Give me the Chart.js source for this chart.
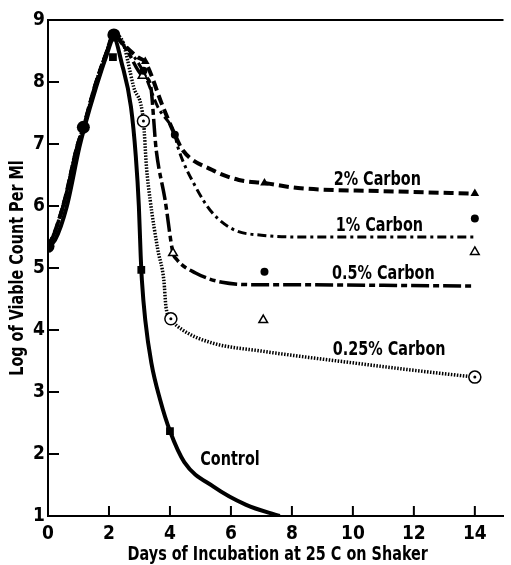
<!DOCTYPE html>
<html>
<head>
<meta charset="utf-8">
<script src="https://cdn.jsdelivr.net/npm/chart.js@4/dist/chart.umd.min.js"></script>
<style>
html, body { margin: 0; padding: 0; background: #fff; }
canvas { display: block; }
</style>
</head>
<body>
<canvas id="myChart" width="511" height="565"></canvas>
<script>
// viable count curves

const xTicks = [0, 2, 4, 6, 8, 10, 12, 14];
const yTicks = [1, 2, 3, 4, 5, 6, 7, 8, 9];

const controlDays = [0, 0.23, 0.61, 1.03, 1.19, 1.58, 1.9, 2.16, 2.42, 2.72, 2.88, 2.98, 3.04, 3.08, 3.19, 3.39, 3.68, 4.0, 4.47, 5.44, 6.5, 7.6];
const controlLog  = [5.35, 5.45, 5.98, 6.95, 7.26, 7.92, 8.4, 8.7, 8.3, 7.6, 6.8, 6.0, 5.2, 4.8, 4.16, 3.47, 2.87, 2.37, 1.87, 1.47, 1.18, 1.0];

const c2Days = [0, 0.2, 0.55, 0.95, 1.16, 1.55, 1.9, 2.16, 2.42, 2.94, 3.19, 3.77, 4.16, 4.42, 5.39, 6.26, 7.1, 8.2, 11, 14];
const c2Log  = [5.35, 5.55, 6.1, 6.95, 7.27, 7.95, 8.45, 8.76, 8.63, 8.4, 8.32, 7.6, 7.15, 6.9, 6.58, 6.42, 6.37, 6.29, 6.24, 6.2];

const c1Days = [0, 0.2, 0.55, 0.95, 1.16, 1.55, 1.9, 2.16, 2.6, 3.13, 3.6, 4.16, 4.26, 4.84, 5.39, 6.13, 7.0, 8.2, 11, 14];
const c1Log  = [5.35, 5.55, 6.1, 6.95, 7.27, 7.95, 8.45, 8.76, 8.55, 8.16, 7.6, 7.15, 6.95, 6.31, 5.89, 5.61, 5.53, 5.5, 5.5, 5.5];

const c05Days = [0, 0.2, 0.55, 0.95, 1.16, 1.55, 1.9, 2.16, 2.6, 3.1, 3.35, 3.55, 3.84, 4.1, 4.2, 4.84, 5.71, 7.0, 8.2, 11, 14];
const c05Log  = [5.35, 5.55, 6.1, 6.95, 7.27, 7.95, 8.45, 8.76, 8.5, 8.1, 7.98, 6.9, 6.1, 5.24, 5.15, 4.92, 4.77, 4.73, 4.73, 4.72, 4.71];

const c025Days = [0, 0.2, 0.55, 0.95, 1.16, 1.55, 1.9, 2.16, 2.42, 2.81, 3.13, 3.23, 3.35, 3.6, 3.8, 3.87, 4.03, 4.42, 5.39, 7.0, 8.2, 10, 12, 14];
const c025Log  = [5.35, 5.55, 6.1, 6.95, 7.27, 7.95, 8.45, 8.76, 8.68, 7.92, 7.37, 6.63, 6.1, 5.3, 4.8, 4.37, 4.18, 4.0, 3.79, 3.66, 3.58, 3.47, 3.35, 3.24];

// plotted symbols
const bigDotDays = [0, 1.16, 2.16];
const bigDotLog  = [5.35, 7.27, 8.76];
const dotDays = [3.13, 4.16, 7.1, 14];
const dotLog  = [8.18, 7.15, 4.94, 5.8];
const triDays = [3.19, 7.1, 14];
const triLog  = [8.33, 6.37, 6.2];
const openTriDays = [3.1, 4.1, 7.06, 14];
const openTriLog  = [8.1, 5.24, 4.16, 5.26];
const squareDays = [2.13, 3.06, 4.0];
const squareLog  = [8.4, 4.97, 2.37];
const ringDays = [3.13, 4.03, 14];
const ringLog  = [7.37, 4.18, 3.24];

// curve labels
const labelText = ['2% Carbon', '1% Carbon', '0.5% Carbon', '0.25% Carbon', 'Control'];
const labelDays = [10.8, 10.87, 11.0, 11.19, 5.97];
const labelLog  = [6.42, 5.68, 4.9, 3.68, 1.9];

const xTitle = 'Days of Incubation at 25 C on Shaker';
const yTitle = 'Log of Viable Count Per Ml';

const FONT = '"DejaVu Sans Condensed", "DejaVu Sans", sans-serif';

function pts(xs, ys) {
    return xs.map((x, i) => ({ x: x, y: ys[i] }));
}

function curve(xs, ys, width, dash) {
    return {
        type: 'line',
        data: pts(xs, ys),
        borderColor: '#000',
        borderWidth: width,
        borderDash: dash,
        borderCapStyle: 'butt',
        cubicInterpolationMode: 'monotone',
        pointRadius: 0,
        fill: false,
        order: 2
    };
}

function marks(xs, ys, style, radius, fillColor, lineW) {
    return {
        type: 'scatter',
        data: pts(xs, ys),
        pointStyle: style,
        pointRadius: radius,
        pointBackgroundColor: fillColor,
        pointBorderColor: '#000',
        pointBorderWidth: lineW,
        order: 1
    };
}

const ringCenters = marks(ringDays, ringLog, 'circle', 1.5, '#000', 0);
ringCenters.order = 0;

// condensed bold text, like the typeset original
function narrowText(ctx, text, x, y, angle) {
    ctx.save();
    ctx.translate(x, y);
    ctx.rotate(angle);
    ctx.scale(0.8, 1);
    ctx.fillText(text, 0, 0);
    ctx.restore();
}

// inward ticks, top frame line, axis titles and curve labels
const extrasPlugin = {
    id: 'extras',
    afterDatasetsDraw(chart) {
        const ctx = chart.ctx;
        const area = chart.chartArea;
        const xs = chart.scales.x;
        const ys = chart.scales.y;
        ctx.save();
        ctx.strokeStyle = '#000';
        ctx.lineWidth = 2;
        ctx.beginPath();
        ctx.moveTo(area.left, area.top);
        ctx.lineTo(area.right, area.top);
        yTicks.forEach(v => {
            if (v === 1 || v === 9) return;
            const py = ys.getPixelForValue(v);
            ctx.moveTo(area.left, py);
            ctx.lineTo(area.left + 11, py);
        });
        xTicks.forEach(v => {
            if (v === 0) return;
            const px = xs.getPixelForValue(v);
            ctx.moveTo(px, area.bottom);
            ctx.lineTo(px, area.bottom - 10);
        });
        ctx.stroke();

        ctx.fillStyle = '#000';
        ctx.font = 'bold 20px ' + FONT;
        ctx.textAlign = 'center';
        ctx.textBaseline = 'middle';
        labelText.forEach((t, i) => {
            narrowText(ctx, t, xs.getPixelForValue(labelDays[i]), ys.getPixelForValue(labelLog[i]), 0);
        });
        narrowText(ctx, xTitle, (area.left + area.right) / 2 + 2, chart.height - 10, 0);
        narrowText(ctx, yTitle, 18, (area.top + area.bottom) / 2, -Math.PI / 2);
        ctx.restore();
    }
};

const ctx = document.getElementById('myChart').getContext('2d');
const myChart = new Chart(ctx, {
    data: {
        datasets: [
            ringCenters,
            marks(bigDotDays, bigDotLog, 'circle', 6.5, '#000', 0),
            marks(dotDays, dotLog, 'circle', 4, '#000', 0),
            marks(triDays, triLog, 'triangle', 5, '#000', 0),
            marks(openTriDays, openTriLog, 'triangle', 5, '#fff', 1.5),
            marks(squareDays, squareLog, 'rect', 5.5, '#000', 0),
            marks(ringDays, ringLog, 'circle', 6, '#fff', 1.5),
            curve(controlDays, controlLog, 4, []),
            curve(c2Days, c2Log, 4, [10, 5]),
            curve(c1Days, c1Log, 3, [9, 4, 3, 4]),
            curve(c05Days, c05Log, 3.5, [18, 4, 6, 4]),
            curve(c025Days, c025Log, 3.5, [1.5, 1.5])
        ]
    },
    options: {
        responsive: false,
        animation: false,
        layout: { padding: { top: 20, left: 0, right: 0, bottom: 0 } },
        plugins: {
            legend: { display: false },
            tooltip: { enabled: false }
        },
        scales: {
            x: {
                type: 'linear',
                min: 0,
                max: 14.94,
                afterFit(scale) { scale.height = 49; },
                afterBuildTicks(scale) { scale.ticks = xTicks.map(v => ({ value: v })); },
                grid: { drawOnChartArea: false, drawTicks: false },
                border: { display: true, color: '#000', width: 2 },
                ticks: {
                    color: '#000',
                    padding: 7,
                    maxRotation: 0,
                    font: { family: FONT, size: 19, weight: 'bold' }
                }
            },
            y: {
                type: 'linear',
                min: 1,
                max: 9,
                afterFit(scale) { scale.width = 48; },
                afterBuildTicks(scale) { scale.ticks = yTicks.map(v => ({ value: v })); },
                grid: { drawOnChartArea: false, drawTicks: false },
                border: { display: true, color: '#000', width: 2 },
                ticks: {
                    color: '#000',
                    padding: 3,
                    font: { family: FONT, size: 19, weight: 'bold' }
                }
            }
        }
    },
    plugins: [extrasPlugin]
});
</script>
</body>
</html>
